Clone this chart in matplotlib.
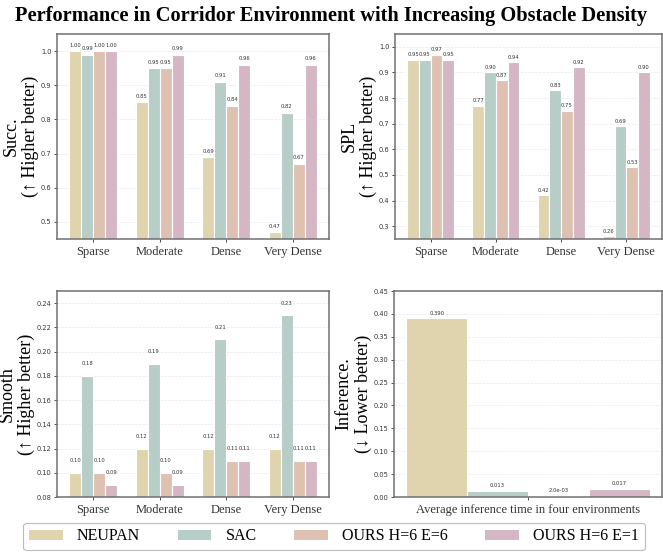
import matplotlib
matplotlib.use("Agg")
import matplotlib.pyplot as plt
import numpy as np
from matplotlib.patches import Patch

categories = ["Sparse", "Moderate", "Dense", "Very Dense"]
methods = ["NEUPAN", "SAC", "OURS H=6 E=6", "OURS H=6 E=1"]
colors = ["#dfd4ae", "#b6cdc8", "#dfc1b2", "#d4b6c4"]

succ_neupan = [1.00, 0.85, 0.69, 0.47]
succ_sac = [0.99, 0.95, 0.91, 0.82]
succ_ours6 = [1.00, 0.95, 0.84, 0.67]
succ_ours1 = [1.00, 0.99, 0.96, 0.96]

spl_neupan = [0.95, 0.77, 0.42, 0.26]
spl_sac = [0.95, 0.90, 0.83, 0.69]
spl_ours6 = [0.97, 0.87, 0.75, 0.53]
spl_ours1 = [0.95, 0.94, 0.92, 0.90]

smooth_neupan = [0.10, 0.12, 0.12, 0.12]
smooth_sac = [0.18, 0.19, 0.21, 0.23]
smooth_ours6 = [0.10, 0.10, 0.11, 0.11]
smooth_ours1 = [0.09, 0.09, 0.11, 0.11]

inference_label = "Average inference time in four environments"
inference_vals = [0.390, 0.013, 0.002, 0.017]

serif = ["Liberation Serif", "DejaVu Serif"]
plt.rcParams["font.family"] = ["DejaVu Sans"]

fig = plt.figure(figsize=(6.63, 5.52), dpi=100)
W, H = 663, 552
def add_ax(l, r, t, b):
    return fig.add_axes([l / W, 1 - b / H, (r - l) / W, (b - t) / H])

ax_tl = add_ax(57, 329, 34, 239)
ax_tr = add_ax(395, 662, 34, 239)
ax_bl = add_ax(57, 329, 291, 497)
ax_br = add_ax(394, 662, 291, 497)

def style(ax):
    for s in ax.spines.values():
        s.set_color("#707070")
        s.set_linewidth(1.1)
    ax.tick_params(axis="y", labelsize=4.8, colors="#333333", length=2, width=0.6, pad=2)
    ax.tick_params(axis="x", length=2, width=0.6, colors="#333333", pad=3)
    ax.grid(axis="y", linestyle="--", color="#dddddd", linewidth=0.5, alpha=0.7)
    ax.set_axisbelow(True)

def set_ylabel(ax, text):
    ax.set_ylabel(text, fontsize=13, family=serif, linespacing=1.15, labelpad=1)

def grouped(ax, series, ylim, yticks, ylabel, offset):
    x = np.arange(len(categories))
    w = 0.18
    for i, vals in enumerate(series):
        bars = ax.bar(x + (i - 1.5) * w, vals, w, color=colors[i],
                      edgecolor="white", linewidth=0.8)
        for b, v in zip(bars, vals):
            ax.text(b.get_x() + b.get_width() / 2, v + offset, f"{v:.2f}",
                    ha="center", va="bottom", fontsize=3.8, color="#333333")
    ax.set_xticks(x)
    ax.set_xticklabels(categories, fontsize=9, family=serif)
    ax.set_ylim(*ylim)
    ax.set_yticks(yticks)
    set_ylabel(ax, ylabel)
    style(ax)

grouped(ax_tl, [succ_neupan, succ_sac, succ_ours6, succ_ours1], (0.45, 1.05),
        [0.5, 0.6, 0.7, 0.8, 0.9, 1.0], "Succ.\n(↑ Higher better)", 0.01)
ax_tl.set_yticklabels(["0.5", "0.6", "0.7", "0.8", "0.9", "1.0"])
grouped(ax_tr, [spl_neupan, spl_sac, spl_ours6, spl_ours1], (0.25, 1.05),
        [0.3, 0.4, 0.5, 0.6, 0.7, 0.8, 0.9, 1.0], "SPL\n(↑ Higher better)", 0.01)
ax_tr.set_yticklabels(["0.3", "0.4", "0.5", "0.6", "0.7", "0.8", "0.9", "1.0"])
grouped(ax_bl, [smooth_neupan, smooth_sac, smooth_ours6, smooth_ours1], (0.08, 0.25),
        [0.08, 0.10, 0.12, 0.14, 0.16, 0.18, 0.20, 0.22, 0.24], "Smooth\n(↑ Higher better)", 0.008)
ax_bl.set_yticklabels([f"{v:.2f}" for v in [0.08, 0.10, 0.12, 0.14, 0.16, 0.18, 0.20, 0.22, 0.24]])

# inference
w = 0.2
for i, v in enumerate(inference_vals):
    b = ax_br.bar((i - 1.5) * w, v, w, color=colors[i], edgecolor="white", linewidth=0.8)[0]
    lab = f"{v:.1e}" if v < 0.01 else f"{v:.3f}"
    ax_br.text(b.get_x() + w / 2, v + 0.006, lab, ha="center", va="bottom",
               fontsize=3.8, color="#333333")
ax_br.set_xticks([0])
ax_br.set_xticklabels([inference_label], fontsize=9, family=serif)
ax_br.set_ylim(0, 0.45)
yt = [0.0, 0.05, 0.10, 0.15, 0.20, 0.25, 0.30, 0.35, 0.40, 0.45]
ax_br.set_yticks(yt)
ax_br.set_yticklabels([f"{v:.2f}" for v in yt])
set_ylabel(ax_br, "Inference.\n(↓ Lower better)")
style(ax_br)

fig.suptitle("Performance in Corridor Environment with Increasing Obstacle Density",
             fontsize=14.7, fontweight="bold", family=serif, y=0.99, va="top")

handles = [Patch(facecolor=c, edgecolor="none") for c in colors]
leg = fig.legend(handles, methods, loc="lower center", bbox_to_anchor=(0.504, -0.011),
                 ncol=4, prop={"family": serif, "size": 11.5}, frameon=True,
                 handlelength=2.1, handleheight=0.65, handletextpad=0.9,
                 columnspacing=2.35, borderpad=0.35, fancybox=True)
leg.get_frame().set_edgecolor("#aaaaaa")
leg.get_frame().set_linewidth(0.8)

fig.savefig("out.png", dpi=100)
